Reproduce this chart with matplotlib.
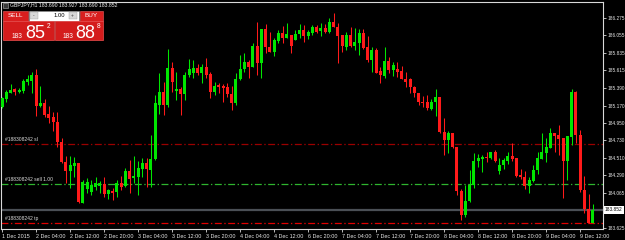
import matplotlib
matplotlib.use("Agg")
import matplotlib.pyplot as plt
from matplotlib.patches import Rectangle
import numpy as np

plt.rcParams['font.family'] = ['Liberation Sans', 'DejaVu Sans']
plt.rcParams['lines.scale_dashes'] = False

# ---------------- data ----------------
opens = [185.155, 185.252, 185.332, 185.375, 185.345, 185.353, 185.471, 185.483, 185.555, 185.168,
         185.206, 185.063, 185.021, 184.966, 184.713, 184.461, 184.343, 184.406, 184.448, 183.943,
         184.112, 184.082, 184.145, 184.154, 184.179, 184.053, 184.094, 184.082, 184.196, 184.154,
         184.343, 184.251, 184.271, 184.365, 184.440, 184.356, 184.495, 185.177, 185.345, 185.177,
         185.640, 185.357, 185.379, 185.312, 185.555, 185.577, 185.644, 185.577, 185.653, 185.568,
         185.345, 185.425, 185.416, 185.400, 185.315, 185.198, 185.505, 185.627, 185.723, 185.660,
         185.921, 185.711, 186.136, 185.913, 185.850, 185.985, 186.089, 186.019, 186.060, 185.997,
         186.073, 186.123, 186.048, 186.089, 186.158, 186.111, 186.145, 186.102, 186.221, 186.165,
         186.060, 185.905, 186.060, 185.921, 185.963, 186.082, 185.905, 185.745, 185.871, 185.610,
         185.547, 185.736, 185.618, 185.631, 185.610, 185.501, 185.501, 185.408, 185.324, 185.218,
         185.218, 185.126, 185.218, 185.274, 184.839, 184.735, 184.819, 184.642, 184.094, 183.788,
         183.964, 184.167, 184.469, 184.499, 184.516, 184.504, 184.579, 184.347, 184.419, 184.473,
         184.533, 184.504, 184.293, 184.271, 184.158, 184.221, 184.356, 184.495, 184.574, 184.637,
         184.827, 184.798, 184.756, 184.473, 184.776, 185.337, 184.798, 184.103, 183.860, 183.690]
highs = [185.278, 185.366, 185.438, 185.387, 185.387, 185.501, 185.555, 185.597, 185.627, 185.416,
         185.248, 185.168, 185.092, 185.092, 184.764, 184.533, 184.533, 184.524, 184.448, 184.230,
         184.251, 184.230, 184.264, 184.217, 184.264, 184.116, 184.125, 184.230, 184.280, 184.377,
         184.482, 184.533, 184.473, 184.504, 184.504, 184.798, 185.303, 185.577, 185.471, 185.880,
         185.723, 185.589, 185.408, 185.597, 185.754, 185.745, 185.694, 185.694, 185.766, 185.597,
         185.471, 185.458, 185.442, 185.458, 185.416, 185.577, 185.808, 185.837, 185.745, 185.956,
         186.228, 186.140, 186.199, 186.102, 186.019, 186.123, 186.174, 186.216, 186.060, 186.123,
         186.199, 186.187, 186.123, 186.187, 186.187, 186.208, 186.199, 186.271, 186.334, 186.208,
         186.060, 186.102, 186.165, 186.145, 186.136, 186.136, 186.048, 185.913, 185.892, 185.653,
         185.905, 185.779, 185.723, 185.723, 185.669, 185.597, 185.514, 185.416, 185.332, 185.290,
         185.303, 185.248, 185.375, 185.282, 185.009, 184.852, 184.827, 184.650, 184.112, 184.167,
         184.356, 184.567, 184.558, 184.545, 184.587, 184.587, 184.608, 184.504, 184.504, 184.583,
         184.693, 184.504, 184.365, 184.347, 184.271, 184.419, 184.587, 184.827, 184.756, 184.882,
         184.827, 184.924, 184.756, 184.790, 185.375, 185.357, 184.861, 184.280, 184.053, 183.927]
lows = [185.139, 185.218, 185.324, 185.303, 185.324, 185.332, 185.429, 185.324, 185.038, 185.155,
        185.021, 184.953, 184.852, 184.642, 184.440, 184.188, 184.129, 184.271, 183.935, 183.935,
        184.062, 184.040, 184.103, 184.065, 184.019, 183.986, 183.977, 184.019, 184.103, 184.145,
        184.069, 184.188, 184.040, 184.271, 184.145, 184.145, 184.482, 185.063, 185.050, 185.155,
        185.345, 185.240, 185.050, 185.240, 185.534, 185.514, 185.555, 185.451, 185.514, 185.261,
        185.303, 185.324, 185.218, 185.274, 185.113, 185.177, 185.492, 185.597, 185.514, 185.653,
        185.555, 185.521, 185.837, 185.850, 185.795, 185.956, 185.956, 186.019, 185.837, 185.997,
        186.019, 185.976, 186.006, 186.060, 186.089, 186.048, 186.089, 186.089, 186.158, 185.711,
        185.850, 185.871, 185.905, 185.871, 185.808, 185.880, 185.723, 185.597, 185.577, 185.458,
        185.514, 185.584, 185.547, 185.534, 185.501, 185.400, 185.324, 185.274, 185.177, 185.155,
        185.113, 185.113, 185.038, 184.827, 184.545, 184.567, 184.630, 184.040, 183.725, 183.766,
        183.956, 184.125, 184.398, 184.334, 184.461, 184.491, 184.457, 184.305, 184.365, 184.432,
        184.473, 184.271, 184.238, 184.112, 184.069, 184.208, 184.305, 184.491, 184.461, 184.630,
        184.587, 184.545, 184.002, 184.230, 184.672, 184.693, 184.082, 183.809, 183.683, 183.690]
closes = [185.261, 185.345, 185.366, 185.345, 185.366, 185.480, 185.501, 185.555, 185.168, 185.206,
          185.050, 185.009, 184.958, 184.713, 184.461, 184.343, 184.419, 184.448, 183.948, 184.208,
          184.208, 184.167, 184.188, 184.192, 184.053, 184.103, 184.069, 184.196, 184.145, 184.343,
          184.238, 184.284, 184.377, 184.440, 184.365, 184.491, 185.198, 185.345, 185.177, 185.640,
          185.471, 185.379, 185.315, 185.555, 185.627, 185.640, 185.577, 185.660, 185.555, 185.345,
          185.416, 185.400, 185.387, 185.315, 185.206, 185.505, 185.631, 185.723, 185.660, 185.921,
          185.711, 186.136, 185.905, 185.850, 185.997, 186.089, 186.019, 186.073, 185.921, 186.073,
          186.123, 186.052, 186.094, 186.158, 186.102, 186.145, 186.102, 186.221, 186.165, 186.048,
          185.921, 186.060, 185.921, 185.968, 186.082, 185.900, 185.745, 185.871, 185.584, 185.555,
          185.736, 185.618, 185.682, 185.597, 185.501, 185.471, 185.408, 185.324, 185.218, 185.206,
          185.135, 185.218, 185.274, 184.839, 184.735, 184.819, 184.642, 184.094, 183.788, 183.964,
          184.167, 184.473, 184.511, 184.516, 184.504, 184.579, 184.473, 184.419, 184.482, 184.533,
          184.491, 184.280, 184.271, 184.154, 184.230, 184.356, 184.504, 184.579, 184.642, 184.827,
          184.785, 184.747, 184.473, 184.785, 185.337, 184.798, 184.103, 183.860, 183.690, 183.852]

time_labels = ["1 Dec 2015", "2 Dec 04:00", "2 Dec 12:00", "2 Dec 20:00", "3 Dec 04:00",
               "3 Dec 12:00", "3 Dec 20:00", "4 Dec 04:00", "4 Dec 12:00", "6 Dec 20:00",
               "7 Dec 04:00", "7 Dec 12:00", "7 Dec 20:00", "8 Dec 04:00", "8 Dec 12:00",
               "8 Dec 20:00", "9 Dec 04:00", "9 Dec 12:00"]
bars_per_label = 8
price_ticks = [186.275, 186.055, 185.835, 185.615, 185.390, 185.170, 184.950,
               184.730, 184.510, 184.290, 184.065, 183.625]

bid = 183.852
order_id = "#188308242"
order_open = 184.185
order_sl = 184.685
order_tp = 183.685
symbol = "GBPJPY,H1"
sell_price = ("183", "85", "2")
buy_price = ("183", "88", "8")
lot = "1.00"

# ---------------- figure ----------------
W, H = 625, 240
fig = plt.figure(figsize=(W / 100, H / 100), dpi=100, facecolor='black')
ax = fig.add_axes([1 / W, 1 - 229 / H, 602 / W, 227 / H], facecolor='black')

n = len(closes)
x = np.arange(n)
o = np.array(opens); c = np.array(closes)
hi = np.array(highs); lo = np.array(lows)
up = c >= o
colors = np.where(up, '#00e600', '#ff1a1a')

ax.vlines(x, lo, hi, colors=colors, linewidth=0.75, zorder=3)
body_h = np.maximum(np.abs(c - o), 0.012)
ax.bar(x, body_h, bottom=np.minimum(o, c), width=0.7, color=colors,
       linewidth=0, zorder=4)

ax.set_xlim(-0.25, 141.4)
ax.set_ylim(183.611, 186.477)

# order lines
dash = (0, (5.0, 1.8, 1.0, 1.8))
ax.axhline(order_sl, color='#9a0000', lw=0.9, ls=dash, zorder=2)
ax.axhline(order_open, color='#2fb52f', lw=0.9, ls=dash, zorder=2)
ax.axhline(order_tp, color='#e00000', lw=0.9, ls=dash, zorder=2)
ax.axhline(bid, color='#4a4f55', lw=1.6, zorder=1)

tr = ax.get_yaxis_transform()
for lvl, lab in [(order_sl, order_id + " sl"), (order_open, order_id + " sell " + lot),
                 (order_tp, order_id + " tp")]:
    ax.text(0.006, lvl + 0.022, lab, transform=tr, color='#dcdcdc', fontsize=3.6,
            va='bottom', ha='left', zorder=5)

# axes styling
for s in ax.spines.values():
    s.set_color('#d8d8d8')
    s.set_linewidth(0.8)

ax.set_xticks(np.arange(len(time_labels)) * bars_per_label)
ax.set_xticklabels(time_labels)
ax.tick_params(axis='x', colors='#d8d8d8', length=2.5, width=0.6, pad=1.2,
               labelsize=3.9, labelcolor='#e8e8e8')
for t in ax.get_xticklabels():
    t.set_ha('left')

ax.yaxis.tick_right()
ax.set_yticks(price_ticks)
ax.set_yticklabels([f"{p:.3f}" for p in price_ticks])
ax.tick_params(axis='y', colors='#d8d8d8', length=2.0, width=0.6, pad=1.0,
               labelsize=3.4, labelcolor='#e8e8e8')

ax.text(1.003, bid, f"{bid:.3f}", transform=tr, color='black', fontsize=3.4,
        va='center', ha='left', zorder=6,
        bbox=dict(boxstyle='square,pad=0.25', fc='white', ec='none'))

# ---------------- overlay (header + trade panel) ----------------
ov = fig.add_axes([0, 0, 1, 1], facecolor='none')
ov.set_xlim(0, W); ov.set_ylim(H, 0); ov.axis('off')

ov.add_patch(Rectangle((3, 2.5), 5, 5, fc='#3a3a3a', ec='#b0b0b0', lw=0.4))
ov.text(10, 5.2, f"{symbol} 183.690 183.927 183.690 183.852", color='#f0f0f0',
        fontsize=3.7, va='center', ha='left')

red = '#d91f1f'
ov.add_patch(Rectangle((3, 10.5), 24.5, 10, fc=red, ec='#f06060', lw=0.4))
ov.text(15.2, 15.7, "SELL", color='white', fontsize=4.6, ha='center', va='center')
ov.add_patch(Rectangle((80, 10.5), 22.5, 10, fc=red, ec='#f06060', lw=0.4))
ov.text(91.2, 15.7, "BUY", color='white', fontsize=4.6, ha='center', va='center')
ov.add_patch(Rectangle((28.5, 10.5), 50.5, 10, fc='white', ec='#909090', lw=0.4))
ov.add_patch(Rectangle((29.5, 11.8), 8.5, 7.5, fc='#d8d8d8', ec='#a0a0a0', lw=0.3))
ov.add_patch(Rectangle((68.5, 11.8), 8.5, 7.5, fc='#d8d8d8', ec='#a0a0a0', lw=0.3))
ov.text(33.7, 15.3, "-", color='#404040', fontsize=3.5, ha='center', va='center')
ov.text(72.7, 15.3, "+", color='#404040', fontsize=3.5, ha='center', va='center')
ov.text(65.5, 15.5, lot, color='black', fontsize=4.2, ha='right', va='center')

for (x0, wbox, big, sx_small, sx_big, sx_sup) in [
        (3, 50.5, sell_price, 12, 25, 46.5),
        (54.5, 48, buy_price, 62.5, 75.5, 96.5)]:
    ov.add_patch(Rectangle((x0, 21), wbox, 19, fc='#d41c1c', ec='#ee5050', lw=0.5))
    ov.text(sx_small, 37.5, big[0], color='white', fontsize=4.8, ha='left', va='baseline')
    ov.text(sx_big, 37.8, big[1], color='white', fontsize=13, ha='left', va='baseline')
    ov.text(sx_sup, 28, big[2], color='white', fontsize=4.8, ha='left', va='baseline')

fig.savefig("out.png", dpi=100, facecolor='black')
